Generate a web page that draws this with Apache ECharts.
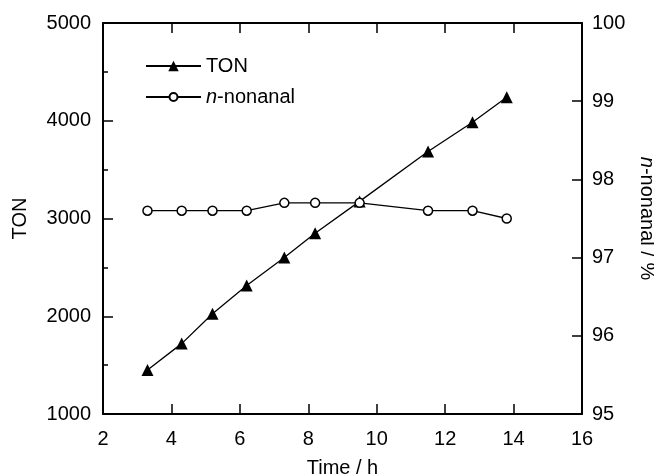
<!DOCTYPE html>
<html>
<head>
<meta charset="utf-8">
<script src="https://cdn.jsdelivr.net/npm/echarts@6/dist/echarts.min.js"></script>
<style>
  html, body { margin: 0; padding: 0; background: #fff; }
  #chart { width: 654px; height: 475px; }
</style>
</head>
<body>
<div id="chart"></div>
<script>
// Reaction time (h) and measured values
const timeH = [3.3, 4.3, 5.2, 6.2, 7.3, 8.2, 9.5, 11.5, 12.8, 13.8];
const tonValues = [1450, 1720, 2025, 2315, 2600, 2850, 3175, 3685, 3985, 4240];
const nonanalPct = [97.6, 97.6, 97.6, 97.6, 97.7, 97.7, 97.7, 97.6, 97.6, 97.5];

const FONT = '"Liberation Sans", Arial, sans-serif';
const FS = 20;

const chart = echarts.init(document.getElementById('chart'), null, { renderer: 'canvas' });

const axisLine = { show: true, lineStyle: { color: '#000', width: 2 } };
const tickIn = (len) => ({ show: true, inside: true, length: len, lineStyle: { color: '#000', width: 1.5 } });
const labelStyle = { color: '#000', fontSize: FS, fontFamily: FONT };
const italicRich = { i: { fontStyle: 'italic', fontSize: FS, fontFamily: FONT, color: '#000' } };
const plain = (v) => String(v);

// each legend row gets its own marker size
const legendBase = {
  orient: 'vertical',
  left: 140,
  itemWidth: 55,
  textStyle: { color: '#000', fontSize: FS, fontFamily: FONT, rich: italicRich },
  formatter: (name) => name === 'n-nonanal' ? '{i|n}-nonanal' : name
};

chart.setOption({
  animation: false,
  backgroundColor: '#fff',
  grid: { left: 103, right: 72, top: 23, bottom: 61, containLabel: false, outerBoundsMode: 'none' },
  legend: [
    { ...legendBase, top: 51, itemHeight: 13, data: ['TON'] },
    { ...legendBase, top: 82, itemHeight: 10, data: ['n-nonanal'] }
  ],
  xAxis: [
    {
      type: 'value', min: 2, max: 16, interval: 2,
      name: 'Time / h', nameLocation: 'middle', nameGap: 44,
      nameTextStyle: labelStyle,
      axisLine, axisTick: tickIn(10),
      axisLabel: { ...labelStyle, margin: 15, formatter: plain },
      splitLine: { show: false }
    },
    {
      type: 'value', min: 2, max: 16, interval: 2, position: 'top',
      axisLine, axisTick: tickIn(10),
      axisLabel: { show: false }, splitLine: { show: false }
    }
  ],
  yAxis: [
    {
      type: 'value', min: 1000, max: 5000, interval: 1000, position: 'left',
      name: 'TON', nameLocation: 'middle', nameGap: 73, nameRotate: 90,
      nameTextStyle: labelStyle,
      axisLine, axisTick: tickIn(10),
      minorTick: { show: true, splitNumber: 2, length: 5, lineStyle: { color: '#000', width: 1.5 } },
      axisLabel: { ...labelStyle, margin: 12, formatter: plain },
      splitLine: { show: false }
    },
    {
      type: 'value', min: 95, max: 100, interval: 1, position: 'right',
      name: '{i|n}-nonanal / %', nameLocation: 'middle', nameGap: 51, nameRotate: -90,
      nameTextStyle: { ...labelStyle, rich: italicRich },
      axisLine, axisTick: tickIn(10),
      axisLabel: { ...labelStyle, margin: 10, formatter: plain },
      splitLine: { show: false }
    }
  ],
  series: [
    {
      name: 'TON', type: 'line', xAxisIndex: 0, yAxisIndex: 0,
      data: timeH.map((t, i) => [t, tonValues[i]]),
      symbol: 'triangle', symbolSize: 12,
      lineStyle: { color: '#000', width: 1.3 },
      itemStyle: { color: '#000', borderColor: '#000', borderWidth: 0 },
      z: 2
    },
    {
      name: 'n-nonanal', type: 'line', xAxisIndex: 0, yAxisIndex: 1,
      data: timeH.map((t, i) => [t, nonanalPct[i]]),
      symbol: 'circle', symbolSize: 9,
      lineStyle: { color: '#000', width: 1.3 },
      itemStyle: { color: '#fff', borderColor: '#000', borderWidth: 1.5 },
      z: 3
    }
  ]
});
</script>
</body>
</html>
